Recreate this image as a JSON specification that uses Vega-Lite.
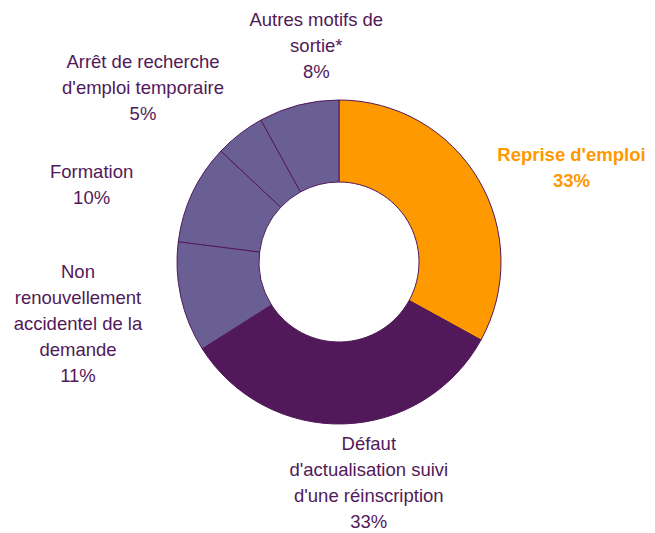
{
  "$schema": "https://vega.github.io/schema/vega-lite/v6.json",
  "width": 632,
  "height": 524,
  "autosize": "none",
  "padding": {"left": 23, "top": 0, "right": 0, "bottom": 9},
  "background": "white",
  "config": {"view": {"stroke": null}, "font": "Liberation Sans"},
  "data": {
    "values": [
      {"ordre": 1, "categorie": "Reprise d'emploi", "part": 33, "etiquette": "Reprise d'emploi\n33%"},
      {"ordre": 2, "categorie": "Défaut d'actualisation suivi d'une réinscription", "part": 33, "etiquette": "Défaut\nd'actualisation suivi\nd'une réinscription\n33%"},
      {"ordre": 3, "categorie": "Non renouvellement accidentel de la demande", "part": 11, "etiquette": "Non\nrenouvellement\naccidentel de la\ndemande\n11%"},
      {"ordre": 4, "categorie": "Formation", "part": 10, "etiquette": "Formation\n10%"},
      {"ordre": 5, "categorie": "Arrêt de recherche d'emploi temporaire", "part": 5, "etiquette": "Arrêt de recherche\nd'emploi temporaire\n5%"},
      {"ordre": 6, "categorie": "Autres motifs de sortie*", "part": 8, "etiquette": "Autres motifs de\nsortie*\n8%"}
    ]
  },
  "encoding": {
    "theta": {"field": "part", "type": "quantitative", "stack": true},
    "order": {"field": "ordre", "type": "quantitative"}
  },
  "layer": [
    {
      "mark": {"type": "arc", "innerRadius": 80, "outerRadius": 162, "stroke": "#511959", "strokeWidth": 1},
      "encoding": {
        "color": {
          "field": "categorie",
          "type": "nominal",
          "legend": null,
          "scale": {
            "domain": ["Reprise d'emploi", "Défaut d'actualisation suivi d'une réinscription", "Non renouvellement accidentel de la demande", "Formation", "Arrêt de recherche d'emploi temporaire", "Autres motifs de sortie*"],
            "range": ["#FF9900", "#511959", "#6A5F95", "#6A5F95", "#6A5F95", "#6A5F95"]
          }
        }
      }
    },
    {
      "mark": {"type": "text", "radius": 248, "dx": 19, "dy": 19, "fontSize": 18.5, "fontWeight": "bold", "lineHeight": 26, "lineBreak": "\n", "align": "center", "baseline": "middle", "color": "#FF9900"},
      "encoding": {"text": {"condition": {"test": "datum.ordre == 1", "field": "etiquette"}, "value": ""}}
    },
    {
      "mark": {"type": "text", "radius": 248, "dx": 22, "dy": -66, "fontSize": 18.5, "lineHeight": 26, "lineBreak": "\n", "align": "center", "baseline": "middle", "color": "#511959"},
      "encoding": {"text": {"condition": {"test": "datum.ordre == 2", "field": "etiquette"}, "value": ""}}
    },
    {
      "mark": {"type": "text", "radius": 248, "dx": -19, "dy": -44, "fontSize": 18.5, "lineHeight": 26, "lineBreak": "\n", "align": "center", "baseline": "middle", "color": "#511959"},
      "encoding": {"text": {"condition": {"test": "datum.ordre == 3", "field": "etiquette"}, "value": ""}}
    },
    {
      "mark": {"type": "text", "radius": 248, "dx": -23, "dy": 16, "fontSize": 18.5, "lineHeight": 26, "lineBreak": "\n", "align": "center", "baseline": "middle", "color": "#511959"},
      "encoding": {"text": {"condition": {"test": "datum.ordre == 4", "field": "etiquette"}, "value": ""}}
    },
    {
      "mark": {"type": "text", "radius": 248, "dx": -44, "dy": -4, "fontSize": 18.5, "lineHeight": 26, "lineBreak": "\n", "align": "center", "baseline": "middle", "color": "#511959"},
      "encoding": {"text": {"condition": {"test": "datum.ordre == 5", "field": "etiquette"}, "value": ""}}
    },
    {
      "mark": {"type": "text", "radius": 248, "dx": 39, "dy": -2, "fontSize": 18.5, "lineHeight": 26, "lineBreak": "\n", "align": "center", "baseline": "middle", "color": "#511959"},
      "encoding": {"text": {"condition": {"test": "datum.ordre == 6", "field": "etiquette"}, "value": ""}}
    }
  ]
}
